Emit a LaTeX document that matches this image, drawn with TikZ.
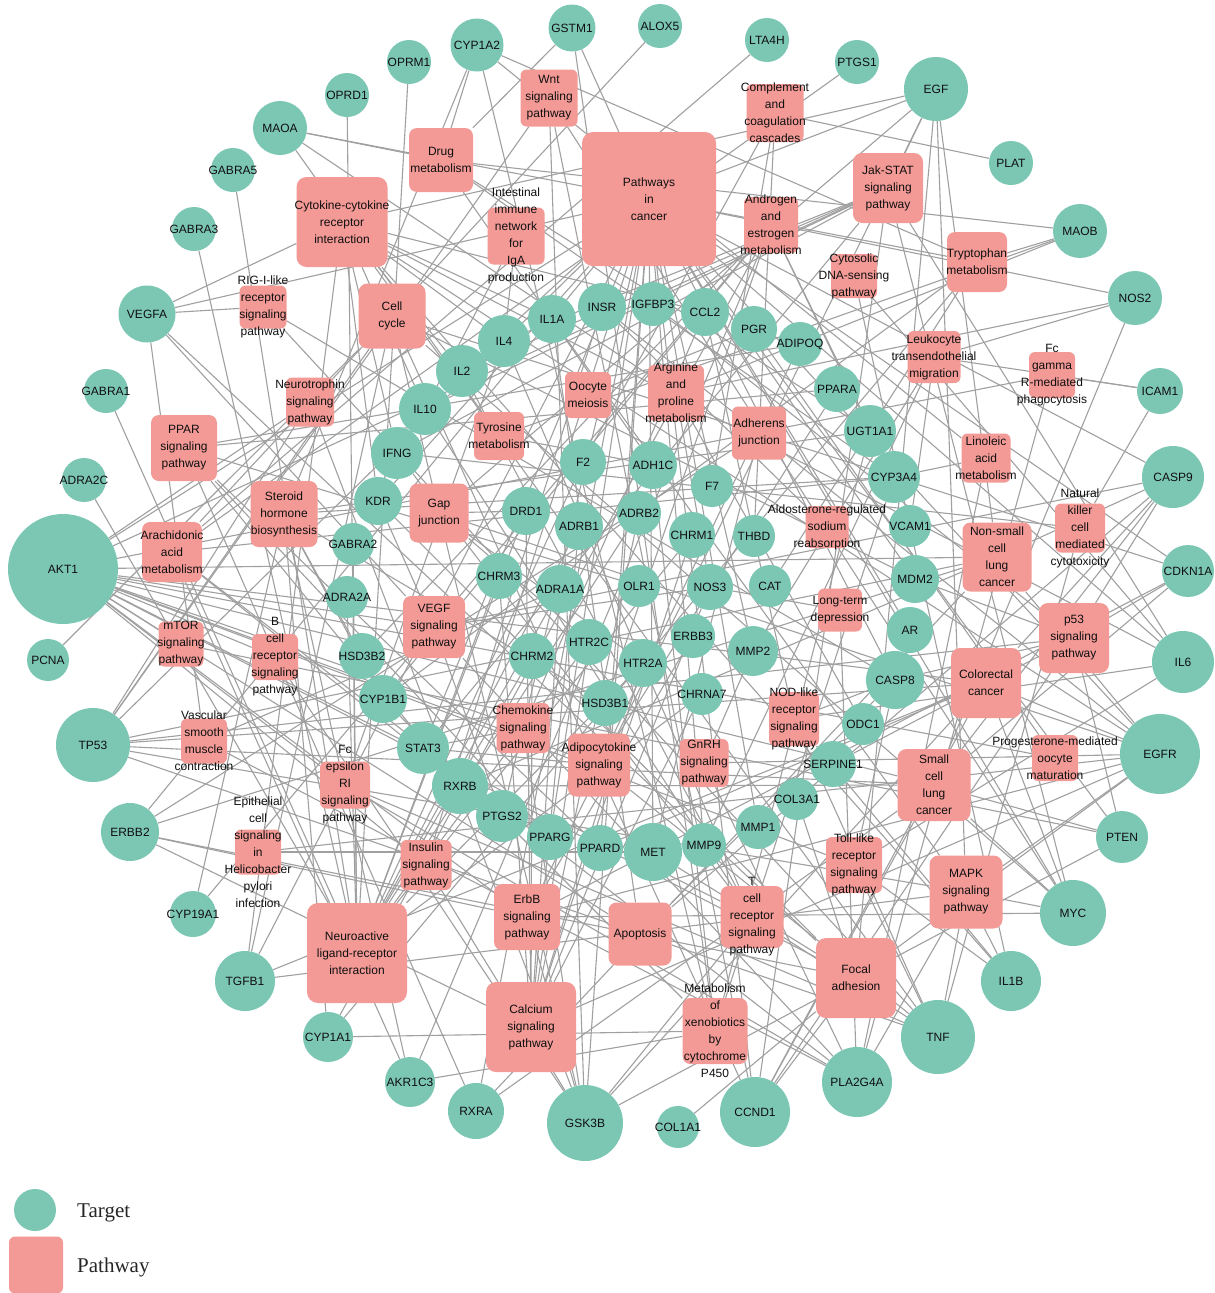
\documentclass[tikz,border=0pt]{standalone}
\usepackage{fontspec}
\newfontfamily\labfont{Liberation Sans}
\newfontfamily\legfont{Liberation Serif}
\pgfdeclarelayer{bg}
\pgfsetlayers{bg,main}
\definecolor{tcol}{RGB}{124,199,180}
\definecolor{pcol}{RGB}{243,154,151}
\definecolor{ecol}{RGB}{160,160,160}
\definecolor{txt}{RGB}{15,15,15}
\tikzset{
 tgt/.style={circle,fill=tcol,inner sep=0pt},
 tlab/.style={font=\labfont\fontsize{12}{13}\selectfont,text=txt,inner sep=0pt},
 pwbox/.style={rectangle,rounded corners=6pt,fill=pcol,inner sep=0pt},
 plab/.style={font=\labfont\fontsize{12}{17}\selectfont,text=txt,align=center,inner sep=0pt},
 edge/.style={draw=ecol,line width=1.1pt},
 legtext/.style={font=\legfont\fontsize{21}{24}\selectfont,text=black!85,inner sep=0pt,anchor=base west}
}
\newcommand\TG[4]{\node[tgt,minimum size=#3pt,label={[tlab]center:#4}] (#1) at (#2) {};}
\newcommand\PW[6][]{\node[pwbox,#1,minimum width=#4pt,minimum height=#5pt,label={[plab]center:{#6}}] (#2) at (#3) {};}
\begin{document}
\begin{tikzpicture}[x=1pt,y=-1pt]
\useasboundingbox (0,0) rectangle (1215,1293);
\begin{pgfonlayer}{bg}
\fill[white] (0,0) rectangle (1215,1293);
\end{pgfonlayer}
% ---------- targets (outer ring) ----------
\TG{akt1}{63,569}{110}{AKT1}
\TG{pcna}{48,660}{42}{PCNA}
\TG{adra2c}{84,480}{44}{ADRA2C}
\TG{gabra1}{106,391}{44}{GABRA1}
\TG{vegfa}{147,314}{57}{VEGFA}
\TG{gabra3}{194,229}{44}{GABRA3}
\TG{gabra5}{233,170}{44}{GABRA5}
\TG{maoa}{280,128}{54}{MAOA}
\TG{oprd1}{347,95}{44}{OPRD1}
\TG{oprm1}{409,62}{44}{OPRM1}
\TG{cyp1a2}{477,45}{53}{CYP1A2}
\TG{gstm1}{572,28}{47}{GSTM1}
\TG{alox5}{660,26}{44}{ALOX5}
\TG{lta4h}{767,40}{44}{LTA4H}
\TG{ptgs1}{857,62}{44}{PTGS1}
\TG{egf}{936,89}{64}{EGF}
\TG{plat}{1011,163}{44}{PLAT}
\TG{maob}{1080,231}{54}{MAOB}
\TG{nos2}{1135,298}{54}{NOS2}
\TG{icam1}{1160,391}{46}{ICAM1}
\TG{casp9}{1173,477}{62}{CASP9}
\TG{cdkn1a}{1188,571}{52}{CDKN1A}
\TG{il6}{1183,662}{62}{IL6}
\TG{egfr}{1160,754}{80}{EGFR}
\TG{pten}{1122,837}{52}{PTEN}
\TG{myc}{1073,913}{66}{MYC}
\TG{il1b}{1011,981}{60}{IL1B}
\TG{tnf}{938,1037}{74}{TNF}
\TG{pla2g4a}{857,1082}{70}{PLA2G4A}
\TG{ccnd1}{755,1112}{70}{CCND1}
\TG{col1a1}{678,1127}{42}{COL1A1}
\TG{gsk3b}{585,1123}{76}{GSK3B}
\TG{rxra}{476,1111}{56}{RXRA}
\TG{akr1c3}{410,1082}{50}{AKR1C3}
\TG{cyp1a1}{328,1037}{50}{CYP1A1}
\TG{tgfb1}{245,981}{60}{TGFB1}
\TG{cyp19a1}{193,914}{46}{CYP19A1}
\TG{erbb2}{130,832}{58}{ERBB2}
\TG{tp53}{93,745}{74}{TP53}
% ---------- targets (inner) ----------
\TG{il1a}{552,319}{48}{IL1A}
\TG{insr}{602,307}{48}{INSR}
\TG{igfbp3}{653,304}{44}{IGFBP3}
\TG{ccl2}{705,312}{48}{CCL2}
\TG{pgr}{754,329}{46}{PGR}
\TG{adipoq}{800,344}{44}{ADIPOQ}
\TG{il4}{504,341}{52}{IL4}
\TG{il2}{462,371}{52}{IL2}
\TG{il10}{425,409}{52}{IL10}
\TG{ifng}{397,453}{52}{IFNG}
\TG{kdr}{378,501}{48}{KDR}
\TG{gabra2}{353,544}{42}{GABRA2}
\TG{adra2a}{347,597}{42}{ADRA2A}
\TG{hsd3b2}{362,656}{46}{HSD3B2}
\TG{cyp1b1}{383,699}{48}{CYP1B1}
\TG{stat3}{423,748}{52}{STAT3}
\TG{rxrb}{460,786}{56}{RXRB}
\TG{ptgs2}{502,816}{52}{PTGS2}
\TG{pparg}{550,837}{46}{PPARG}
\TG{ppard}{600,848}{46}{PPARD}
\TG{met}{653,852}{58}{MET}
\TG{mmp9}{704,845}{44}{MMP9}
\TG{mmp1}{758,827}{44}{MMP1}
\TG{col3a1}{797,799}{42}{COL3A1}
\TG{serpine1}{833,764}{46}{SERPINE1}
\TG{odc1}{863,724}{42}{ODC1}
\TG{casp8}{895,680}{58}{CASP8}
\TG{ar}{910,630}{46}{AR}
\TG{mdm2}{915,579}{48}{MDM2}
\TG{vcam1}{910,526}{42}{VCAM1}
\TG{cyp3a4}{894,477}{52}{CYP3A4}
\TG{ugt1a1}{870,431}{52}{UGT1A1}
\TG{ppara}{837,389}{46}{PPARA}
\TG{f2}{583,462}{46}{F2}
\TG{adh1c}{653,465}{48}{ADH1C}
\TG{f7}{712,486}{42}{F7}
\TG{drd1}{526,511}{48}{DRD1}
\TG{adrb1}{579,526}{48}{ADRB1}
\TG{adrb2}{639,513}{44}{ADRB2}
\TG{chrm1}{692,535}{46}{CHRM1}
\TG{thbd}{754,536}{42}{THBD}
\TG{chrm3}{499,576}{46}{CHRM3}
\TG{adra1a}{560,589}{48}{ADRA1A}
\TG{olr1}{639,586}{42}{OLR1}
\TG{nos3}{710,587}{46}{NOS3}
\TG{cat}{770,586}{42}{CAT}
\TG{htr2c}{589,642}{46}{HTR2C}
\TG{htr2a}{643,663}{48}{HTR2A}
\TG{erbb3}{693,636}{44}{ERBB3}
\TG{mmp2}{753,651}{50}{MMP2}
\TG{chrm2}{532,656}{46}{CHRM2}
\TG{hsd3b1}{605,703}{46}{HSD3B1}
\TG{chrna7}{702,694}{42}{CHRNA7}
% ---------- pathways ----------
\PW[rounded corners=11pt]{pic}{649,199}{134}{134}{Pathways\\in\\cancer}
\PW{wnt}{549,98}{57}{57}{Wnt\\signaling\\pathway}
\PW[rounded corners=8pt]{drug}{441,160}{64}{64}{Drug\\metabolism}
\PW{compl}{775,113}{57}{58}{Complement\\and\\coagulation\\cascades}
\PW[rounded corners=9pt]{jak}{888,188}{70}{70}{Jak-STAT\\signaling\\pathway}
\PW{andro}{771,225}{54}{56}{Androgen\\and\\estrogen\\metabolism}
\PW[rounded corners=8pt]{trp}{977,262}{60}{60}{Tryptophan\\metabolism}
\PW{cyto}{854,276}{46}{44}{Cytosolic\\DNA-sensing\\pathway}
\PW{iga}{516,236}{57}{57}{Intestinal\\immune\\network\\for\\IgA\\production}
\PW[rounded corners=10pt]{ccr}{342,222}{91}{90}{Cytokine-cytokine\\receptor\\interaction}
\PW[rounded corners=9pt]{cc}{392,316}{67}{65}{Cell\\cycle}
\PW{rig}{263,307}{47}{43}{RIG-I-like\\receptor\\signaling\\pathway}
\PW{neurot}{310,402}{48}{49}{Neurotrophin\\signaling\\pathway}
\PW[rounded corners=8pt]{ppar}{184,448}{66}{66}{PPAR\\signaling\\pathway}
\PW{oocyte}{588,395}{46}{46}{Oocyte\\meiosis}
\PW{arg}{676,393}{56}{56}{Arginine\\and\\proline\\metabolism}
\PW{tyr}{499,436}{50}{48}{Tyrosine\\metabolism}
\PW{leuk}{934,357}{53}{52}{Leukocyte\\transendothelial\\migration}
\PW{fcg}{1052,375}{46}{46}{Fc\\gamma\\R-mediated\\phagocytosis}
\PW{adher}{759,433}{54}{53}{Adherens\\junction}
\PW{linol}{986,458}{49}{49}{Linoleic\\acid\\metabolism}
\PW[rounded corners=8pt]{gap}{439,513}{59}{59}{Gap\\junction}
\PW[rounded corners=8pt]{steroid}{284,514}{67}{66}{Steroid\\hormone\\biosynthesis}
\PW[rounded corners=8pt]{arach}{172,552}{60}{60}{Arachidonic\\acid\\metabolism}
\PW{aldo}{827,527}{43}{42}{Aldosterone-regulated\\sodium\\reabsorption}
\PW[rounded corners=8pt]{nsclc}{997,557}{69}{69}{Non-small\\cell\\lung\\cancer}
\PW{nk}{1080,528}{50}{49}{Natural\\killer\\cell\\mediated\\cytotoxicity}
\PW{mtor}{181,644}{45}{45}{mTOR\\signaling\\pathway}
\PW{bcr}{275,657}{46}{46}{B\\cell\\receptor\\signaling\\pathway}
\PW[rounded corners=8pt]{vegf}{434,627}{62}{62}{VEGF\\signaling\\pathway}
\PW{ltd}{840,610}{44}{43}{Long-term\\depression}
\PW[rounded corners=9pt]{p53}{1074,638}{70}{70}{p53\\signaling\\pathway}
\PW[rounded corners=9pt]{crc}{986,683}{70}{70}{Colorectal\\cancer}
\PW{vsmc}{204,741}{46}{45}{Vascular\\smooth\\muscle\\contraction}
\PW{chemo}{523,728}{53}{50}{Chemokine\\signaling\\pathway}
\PW[rounded corners=8pt]{adipo}{599,765}{62}{63}{Adipocytokine\\signaling\\pathway}
\PW{gnrh}{704,763}{49}{48}{GnRH\\signaling\\pathway}
\PW{nod}{794,719}{50}{54}{NOD-like\\receptor\\signaling\\pathway}
\PW{fce}{345,785}{50}{47}{Fc\\epsilon\\RI\\signaling\\pathway}
\PW[rounded corners=9pt]{sclc}{934,785}{73}{72}{Small\\cell\\lung\\cancer}
\PW{prog}{1055,758}{46}{46}{Progesterone-mediated\\oocyte\\maturation}
\PW{hpy}{258,852}{46}{45}{Epithelial\\cell\\signaling\\in\\Helicobacter\\pylori\\infection}
\PW{insulin}{426,865}{51}{50}{Insulin\\signaling\\pathway}
\PW{tlr}{854,865}{56}{56}{Toll-like\\receptor\\signaling\\pathway}
\PW[rounded corners=9pt]{mapk}{966,892}{73}{73}{MAPK\\signaling\\pathway}
\PW[rounded corners=8pt]{erbb}{527,917}{66}{66}{ErbB\\signaling\\pathway}
\PW[rounded corners=8pt]{apop}{640,934}{63}{63}{Apoptosis}
\PW[rounded corners=8pt]{tcr}{752,917}{63}{62}{T\\cell\\receptor\\signaling\\pathway}
\PW[rounded corners=11pt]{neuro}{357,953}{100}{100}{Neuroactive\\ligand-receptor\\interaction}
\PW[rounded corners=10pt]{focal}{856,978}{80}{80}{Focal\\adhesion}
\PW[rounded corners=10pt]{calcium}{531,1027}{90}{90}{Calcium\\signaling\\pathway}
\PW[rounded corners=8pt]{xeno}{715,1031}{65}{66}{Metabolism\\of\\xenobiotics\\by\\cytochrome\\P450}
% ---------- connectors ----------
\begin{pgfonlayer}{bg}
\foreach \p/\ts in {
pic/{akt1,vegfa,egf,egfr,il6,tp53,ccnd1,myc,stat3,mmp1,mmp2,mmp9,ptgs2,pparg,ppard,rxra,rxrb,ar,mdm2,casp8,casp9,cdkn1a,pten,gsk3b,tgfb1,erbb2,met,nos2,gstm1,kdr,il2},
wnt/{gsk3b,myc,ccnd1,tp53},
drug/{maoa,maob,cyp1a2,gstm1,cyp3a4,ugt1a1,adh1c},
compl/{plat,f2,f7,thbd},
jak/{il6,il4,il2,il10,ifng,egf,stat3,akt1,myc,ccnd1},
andro/{hsd3b1,hsd3b2,cyp19a1,cyp3a4,ugt1a1,cyp1a1,cyp1b1,akr1c3},
trp/{maoa,maob,cyp1a2,cyp1a1,cyp1b1,cat},
cyto/{il6,il1b},
iga/{il4,il10},
ccr/{vegfa,il6,il1b,tnf,il1a,ccl2,il4,il2,il10,ifng,kdr,egf,egfr,tgfb1},
cc/{pcna,cdkn1a,myc,ccnd1,tp53,tgfb1,gsk3b,mdm2},
rig/{tnf,casp8,vegfa},
neurot/{akt1,gsk3b,tp53},
ppar/{adipoq,pparg,ppard,ppara,rxra,rxrb,olr1},
oocyte/{pgr},
arg/{maoa,maob,nos2,nos3,odc1},
tyr/{maoa,maob,adh1c},
leuk/{icam1,vcam1,mmp9,mmp2,nos2},
fcg/{akt1,pla2g4a,icam1},
adher/{insr,met,egfr,erbb2},
linol/{pla2g4a,cyp1a2,cyp3a4},
gap/{egf,egfr,drd1,htr2a,htr2c},
steroid/{cyp1a2,akr1c3,cyp1a1,cyp19a1,hsd3b2,hsd3b1,cyp1b1,cyp3a4,ugt1a1},
arach/{alox5,lta4h,ptgs1,ptgs2,pla2g4a,cyp3a4,akr1c3},
aldo/{insr},
nsclc/{akt1,egf,egfr,erbb2,tp53,rxra,rxrb,casp9},
nk/{ifng,tnf,icam1},
mtor/{akt1,pten},
bcr/{akt1,gsk3b},
vegf/{akt1,vegfa,kdr,ptgs2,pla2g4a,nos3,casp9},
ltd/{pla2g4a,nos3},
p53/{tp53,mdm2,cdkn1a,casp8,casp9,ccnd1,pten,igfbp3,serpine1},
crc/{akt1,tp53,tgfb1,myc,ccnd1,gsk3b,egfr,casp9,ppard},
vsmc/{adra1a,pla2g4a,vegfa},
chemo/{akt1,ccl2,stat3,gsk3b},
adipo/{akt1,adipoq,stat3,tnf,ppara},
gnrh/{mmp2,pla2g4a,egfr},
nod/{il6,il1b,tnf,ccl2,casp8},
fce/{akt1,pla2g4a,tnf,il4},
sclc/{akt1,tp53,myc,ccnd1,casp9,nos2,rxra,rxrb,cdkn1a,pten},
prog/{pgr,akt1},
hpy/{met,egfr},
insulin/{akt1,gsk3b,insr},
tlr/{il6,il1b,tnf,casp8,akt1},
mapk/{egf,egfr,tnf,il1b,il1a,myc,tp53,tgfb1,pla2g4a},
erbb/{akt1,egf,egfr,erbb2,erbb3,cdkn1a,myc,gsk3b},
apop/{akt1,casp8,casp9,tp53,tnf,il1a},
tcr/{akt1,gsk3b,il4,il2,il10,ifng,tnf},
neuro/{gabra1,gabra2,gabra3,gabra5,adra2c,adra2a,oprd1,oprm1,drd1,adrb1,adrb2,chrm1,chrm2,chrm3,adra1a,htr2a,htr2c,chrna7,f2},
focal/{akt1,egf,egfr,erbb2,vegfa,kdr,met,gsk3b,ccnd1,col1a1,col3a1,pten},
calcium/{egfr,erbb2,drd1,adrb1,adrb2,chrm1,chrm2,chrm3,adra1a,htr2a,htr2c,chrna7,nos3},
xeno/{cyp1a2,gstm1,cyp1a1,cyp1b1,cyp3a4,ugt1a1,adh1c,akr1c3}%
}{\foreach \t in \ts {\draw[edge] (\p) -- (\t);}}
\end{pgfonlayer}
% ---------- legend ----------
\node[tgt,minimum size=42pt] (legT) at (35,1210) {};
\node[pwbox,minimum width=54pt,minimum height=57pt] (legP) at (36,1265) {};
\node[legtext] (legTt) at (77,1217) {Target};
\node[legtext] (legPt) at (77,1272) {Pathway};
\end{tikzpicture}
\end{document}
